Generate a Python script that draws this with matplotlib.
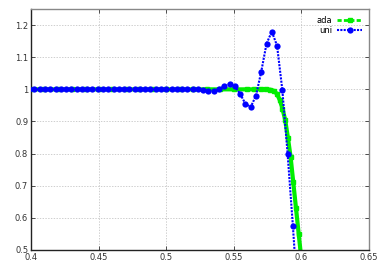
import numpy as np
import matplotlib
matplotlib.use("Agg")
import matplotlib.pyplot as plt
from matplotlib.lines import Line2D
from matplotlib.ticker import FuncFormatter, MultipleLocator

# -------------------------------
# Dati
# -------------------------------

# uni: griglia uniforme (passo ~0.0039), i primi punti valgono 1
uni_x0 = 0.3987
uni_dx = 0.0039
uni_flat = [1.0] * 33
uni_front = [0.999, 0.996, 0.996, 1.000, 1.011, 1.016, 1.009, 0.986,
             0.955, 0.945, 0.980, 1.055, 1.142, 1.180, 1.136, 0.998,
             0.799, 0.575, 0.330]
uni_y = np.array(uni_flat + uni_front)
uni_x = uni_x0 + uni_dx * np.arange(len(uni_y))

# ada: parte piatta + fronte
ada_x = [0.40, 0.41, 0.42, 0.43, 0.44, 0.45, 0.46, 0.47, 0.48, 0.49,
         0.50, 0.51, 0.52, 0.53, 0.54, 0.55, 0.56, 0.565, 0.570, 0.574,
         0.577, 0.580, 0.582, 0.584, 0.586, 0.588, 0.590, 0.592,
         0.594, 0.596, 0.598, 0.600]
ada_y = [1.0, 1.0, 1.0, 1.0, 1.0, 1.0, 1.0, 1.0, 1.0, 1.0,
         1.0, 1.0, 1.0, 1.0, 1.0, 1.0, 1.0, 1.0, 1.0, 1.0,
         0.999, 0.995, 0.985, 0.967, 0.940, 0.905, 0.850, 0.790,
         0.710, 0.630, 0.550, 0.470]

x_ticks = [0.4, 0.45, 0.5, 0.55, 0.6, 0.65]
y_ticks = [0.5, 0.6, 0.7, 0.8, 0.9, 1.0, 1.1, 1.2]

verde = '#00ee00'
blu = '#0000ff'

# -------------------------------
# Plot
# -------------------------------
fig = plt.figure(figsize=(3.82, 2.67), dpi=100)
ax = fig.add_axes([0.081, 0.064, 0.885, 0.902])

ax.plot(ada_x, ada_y, color=verde, linewidth=3, marker='s', markersize=2.5,
        zorder=2, clip_on=True)
ax.plot(uni_x, uni_y, color=blu, linewidth=1.5, linestyle=(0, (1, 0.6)),
        marker='o', markersize=4.5, markeredgewidth=0, zorder=3)

ax.set_xlim(0.4, 0.65)
ax.set_ylim(0.5, 1.25)
ax.set_xticks(x_ticks)
ax.set_yticks(y_ticks)
ax.xaxis.set_major_formatter(FuncFormatter(lambda v, p: f"{v:g}"))
ax.yaxis.set_major_formatter(FuncFormatter(lambda v, p: f"{v:g}"))
ax.tick_params(direction='in', length=3, width=0.6, labelsize=6,
               top=True, right=True, colors='#333333', pad=2)
ax.grid(True, color='#bbbbbb', linestyle=(0, (2, 2)), linewidth=0.5)

for lato in ['left', 'bottom']:
    ax.spines[lato].set_color('#222222')
    ax.spines[lato].set_linewidth(1.0)
for lato in ['top', 'right']:
    ax.spines[lato].set_color('#888888')
    ax.spines[lato].set_linewidth(1.0)

proxy = [
    Line2D([], [], color=verde, linewidth=2, linestyle=(0, (1.5, 0.8)),
           marker='s', markersize=3),
    Line2D([], [], color=blu, linewidth=1.5, linestyle=(0, (1, 0.6)),
           marker='o', markersize=4.5, markeredgewidth=0),
]
ax.legend(proxy, ['ada', 'uni'], loc='upper right', frameon=False,
          fontsize=6, markerfirst=False, handlelength=3.0,
          handletextpad=0.6, labelspacing=0.1, borderaxespad=0.4)

fig.savefig('out.png', dpi=100)
